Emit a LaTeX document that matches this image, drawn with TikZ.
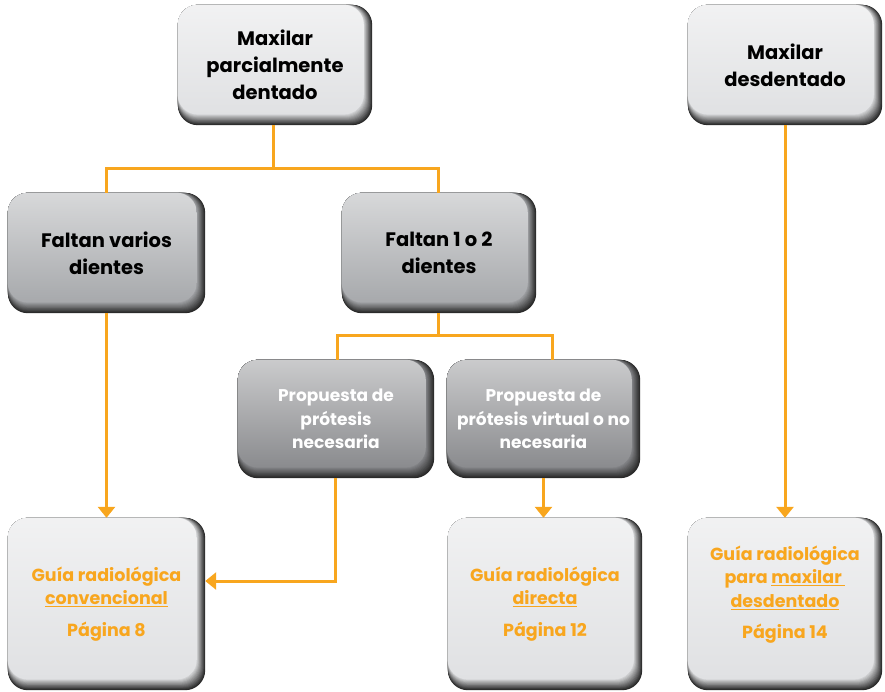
\documentclass[tikz,border=0pt]{standalone}
\usepackage{fontspec}
\setmainfont{Poppins}
\usetikzlibrary{arrows.meta,backgrounds,calc}
\definecolor{org}{RGB}{248,166,30}
\definecolor{lightface}{RGB}{224,225,227}
\definecolor{midface}{RGB}{167,169,172}
\definecolor{darkface}{RGB}{138,139,142}
\definecolor{bevdark}{RGB}{40,40,40}
\newcommand\myul[1]{\underline{#1}}
\newcommand\bevelbox[2]{%
  \foreach \k in {0,...,12}{%
    \pgfmathtruncatemacro\pc{100*\k/12}%
    \fill[#2!\pc!bevdark, rounded corners=20pt] (#1.north west) rectangle ([xshift={-0.7pt*\k}, yshift={0.9pt*\k}]#1.south east);
  }%
  \shade[rounded corners=20pt, top color=#2!45!white, bottom color=#2] (#1.north west) rectangle ([xshift=-8.4pt, yshift=10.8pt]#1.south east);
}
\tikzset{
  boxbase/.style={rectangle, inner sep=0pt, align=center},
  bigtext/.style={font=\bfseries\fontsize{19.5}{27}\selectfont, text=black},
  whitetext/.style={font=\bfseries\fontsize{17}{23.5}\selectfont, text=white},
  orgtext/.style={font=\bfseries\fontsize{17.5}{23.5}\selectfont, text=org},
  conn/.style={draw=org, line width=3pt},
  arr/.style={conn, -{Triangle[width=17pt,length=11pt]}}
}
\begin{document}
\begin{tikzpicture}[x=1pt,y=-1pt]
\useasboundingbox (0,0) rectangle (885,691);
\node[boxbase, bigtext, minimum width=194pt, minimum height=120pt] (A) at (275,65) {Maxilar\\parcialmente\\dentado};
\node[boxbase, bigtext, minimum width=194pt, minimum height=120pt] (B) at (785,65) {Maxilar\\desdentado};
\node[boxbase, bigtext, minimum width=197pt, minimum height=120pt] (C) at (106.5,253) {Faltan varios\\dientes};
\node[boxbase, bigtext, minimum width=194pt, minimum height=120pt] (D) at (439,253) {Faltan 1 o 2\\dientes};
\node[boxbase, whitetext, minimum width=196pt, minimum height=118pt] (E) at (336,419) {Propuesta de\\prótesis\\necesaria};
\node[boxbase, whitetext, minimum width=193pt, minimum height=118pt] (F) at (543.5,419) {Propuesta de\\prótesis virtual o no\\necesaria};
\node[boxbase, orgtext, minimum width=197pt, minimum height=172pt] (G) at (106.5,604) {Guía radiológica\\\myul{convencional}\\[8pt]Página 8};
\node[boxbase, orgtext, minimum width=194pt, minimum height=172pt] (H) at (545,604) {Guía radiológica\\\myul{directa}\\[8pt]Página 12};
\node[boxbase, orgtext, minimum width=194pt, minimum height=172pt] (I) at (785,604) {Guía radiológica\\para \myul{maxilar\ }\\\myul{desdentado}\\[8pt]Página 14\\\mbox{}};
\begin{scope}[on background layer]
  \bevelbox{A}{lightface}
  \bevelbox{B}{lightface}
  \bevelbox{C}{midface}
  \bevelbox{D}{midface}
  \bevelbox{E}{darkface}
  \bevelbox{F}{darkface}
  \bevelbox{G}{lightface}
  \bevelbox{H}{lightface}
  \bevelbox{I}{lightface}
\end{scope}
\coordinate (j1) at (273,168);
\coordinate (j2) at (438,335);
\draw[conn] ([xshift=-2pt]A.south) -- (j1);
\draw[conn] (C.north) |- (j1) -| ([xshift=-1pt]D.north);
\draw[conn] ([xshift=-1pt]D.south) -- (j2);
\draw[conn] ([xshift=1pt]E.north) |- (j2) -| ([xshift=8.5pt]F.north);
\draw[arr] (C.south) -- (G.north);
\draw[arr] ([xshift=-1pt]E.south) |- ([yshift=23pt]G.east);
\draw[arr] (F.south) -- (F.south |- H.north);
\draw[arr] (B.south) -- (I.north);
\end{tikzpicture}
\end{document}
